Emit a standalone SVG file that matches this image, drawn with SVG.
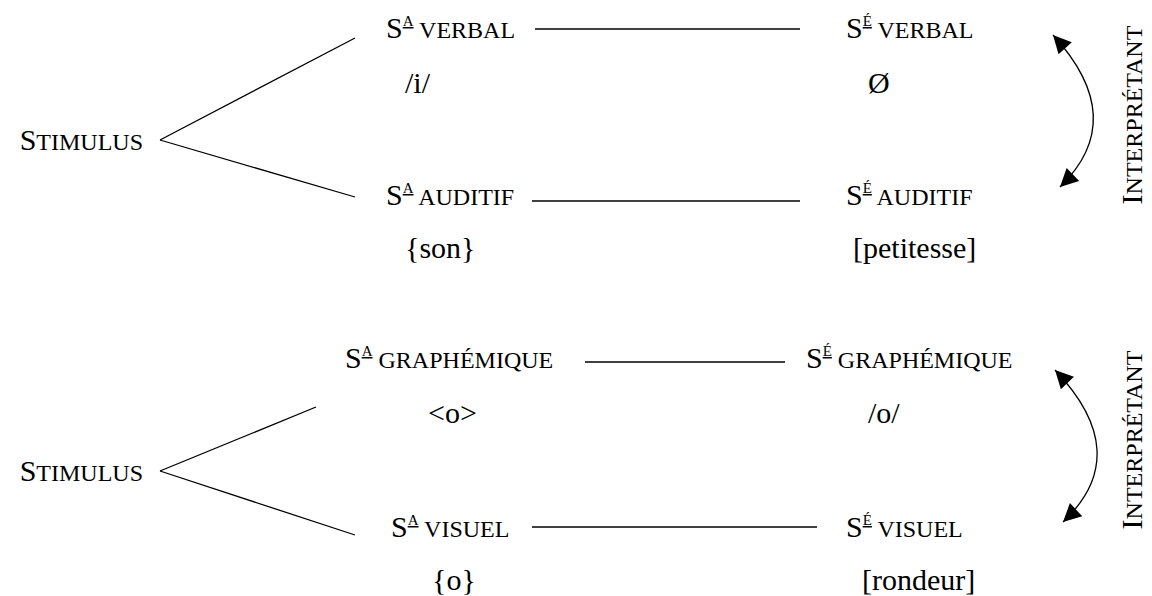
<svg xmlns="http://www.w3.org/2000/svg" width="1152" height="596" viewBox="0 0 1152 596" font-family="'Liberation Serif', 'DejaVu Serif', serif">
  <defs>
    <style>
      text { font-family: "Liberation Serif", "DejaVu Serif", serif; fill: #000; }
      .big { font-size: 30px; }
      .sc { font-size: 24px; }
      .sup { font-size: 15px; text-decoration: underline; }
      .lbl { font-size: 30px; }
      .conn line, .conn path { stroke: #000; stroke-width: 1.3; fill: none; }
    </style>
    <marker id="head" viewBox="0 0 10 10" refX="10" refY="5" markerWidth="21" markerHeight="18" markerUnits="userSpaceOnUse" orient="auto-start-reverse">
      <path d="M0,0 L10,5 L0,10 z" fill="#000"/>
    </marker>
  </defs>
  <rect width="1152" height="596" fill="#fff"/>

  <!-- connectors -->
  <g id="connectors" class="conn">
    <!-- upper diagram -->
    <line x1="160" y1="140" x2="355" y2="38"/>
    <line x1="160" y1="140" x2="355" y2="197"/>
    <line x1="535" y1="29" x2="800" y2="29"/>
    <line x1="532" y1="201" x2="800" y2="201"/>
    <path d="M1053,35 Q1130,119 1060,187" marker-start="url(#head)" marker-end="url(#head)"/>
    <!-- lower diagram -->
    <line x1="160" y1="471" x2="316" y2="407"/>
    <line x1="160" y1="471" x2="355" y2="535"/>
    <line x1="585" y1="362" x2="785" y2="362"/>
    <line x1="532" y1="527" x2="817" y2="527"/>
    <path d="M1055,370 Q1135,454 1063,522" marker-start="url(#head)" marker-end="url(#head)"/>
  </g>

  <!-- upper diagram nodes -->
  <g id="stimulus-1"><text x="143" y="150" text-anchor="end"><tspan class="big">S</tspan><tspan class="sc">TIMULUS</tspan></text></g>
  <g id="sa-verbal"><text x="386" y="38"><tspan class="big">S</tspan><tspan class="sup" dy="-12">A</tspan><tspan class="sc" dy="12"> VERBAL</tspan></text></g>
  <g id="se-verbal"><text x="846" y="38"><tspan class="big">S</tspan><tspan class="sup" dy="-12">É</tspan><tspan class="sc" dy="12"> VERBAL</tspan></text></g>
  <g id="val-i"><text class="lbl" x="405" y="93">/i/</text></g>
  <g id="val-empty"><text class="lbl" x="868" y="93">Ø</text></g>
  <g id="sa-auditif"><text x="386" y="205"><tspan class="big">S</tspan><tspan class="sup" dy="-12">A</tspan><tspan class="sc" dy="12"> AUDITIF</tspan></text></g>
  <g id="se-auditif"><text x="846" y="205"><tspan class="big">S</tspan><tspan class="sup" dy="-12">É</tspan><tspan class="sc" dy="12"> AUDITIF</tspan></text></g>
  <g id="val-son"><text class="lbl" x="405" y="258">{son}</text></g>
  <g id="val-petitesse"><text class="lbl" x="853" y="258">[petitesse]</text></g>
  <g id="interpretant-1"><text transform="translate(1142,115) rotate(-90)" text-anchor="middle"><tspan class="big">I</tspan><tspan class="sc">NTERPRÉTANT</tspan></text></g>

  <!-- lower diagram nodes -->
  <g id="stimulus-2"><text x="143" y="481" text-anchor="end"><tspan class="big">S</tspan><tspan class="sc">TIMULUS</tspan></text></g>
  <g id="sa-graphemique"><text x="345" y="368"><tspan class="big">S</tspan><tspan class="sup" dy="-12">A</tspan><tspan class="sc" dy="12"> GRAPHÉMIQUE</tspan></text></g>
  <g id="se-graphemique"><text x="806" y="368"><tspan class="big">S</tspan><tspan class="sup" dy="-12">É</tspan><tspan class="sc" dy="12"> GRAPHÉMIQUE</tspan></text></g>
  <g id="val-o-graph"><text class="lbl" x="428" y="423">&lt;o&gt;</text></g>
  <g id="val-o-phon"><text class="lbl" x="868" y="423">/o/</text></g>
  <g id="sa-visuel"><text x="391" y="537"><tspan class="big">S</tspan><tspan class="sup" dy="-12">A</tspan><tspan class="sc" dy="12"> VISUEL</tspan></text></g>
  <g id="se-visuel"><text x="846" y="537"><tspan class="big">S</tspan><tspan class="sup" dy="-12">É</tspan><tspan class="sc" dy="12"> VISUEL</tspan></text></g>
  <g id="val-o-brace"><text class="lbl" x="432" y="590">{o}</text></g>
  <g id="val-rondeur"><text class="lbl" x="862" y="590">[rondeur]</text></g>
  <g id="interpretant-2"><text transform="translate(1142,440) rotate(-90)" text-anchor="middle"><tspan class="big">I</tspan><tspan class="sc">NTERPRÉTANT</tspan></text></g>
</svg>
